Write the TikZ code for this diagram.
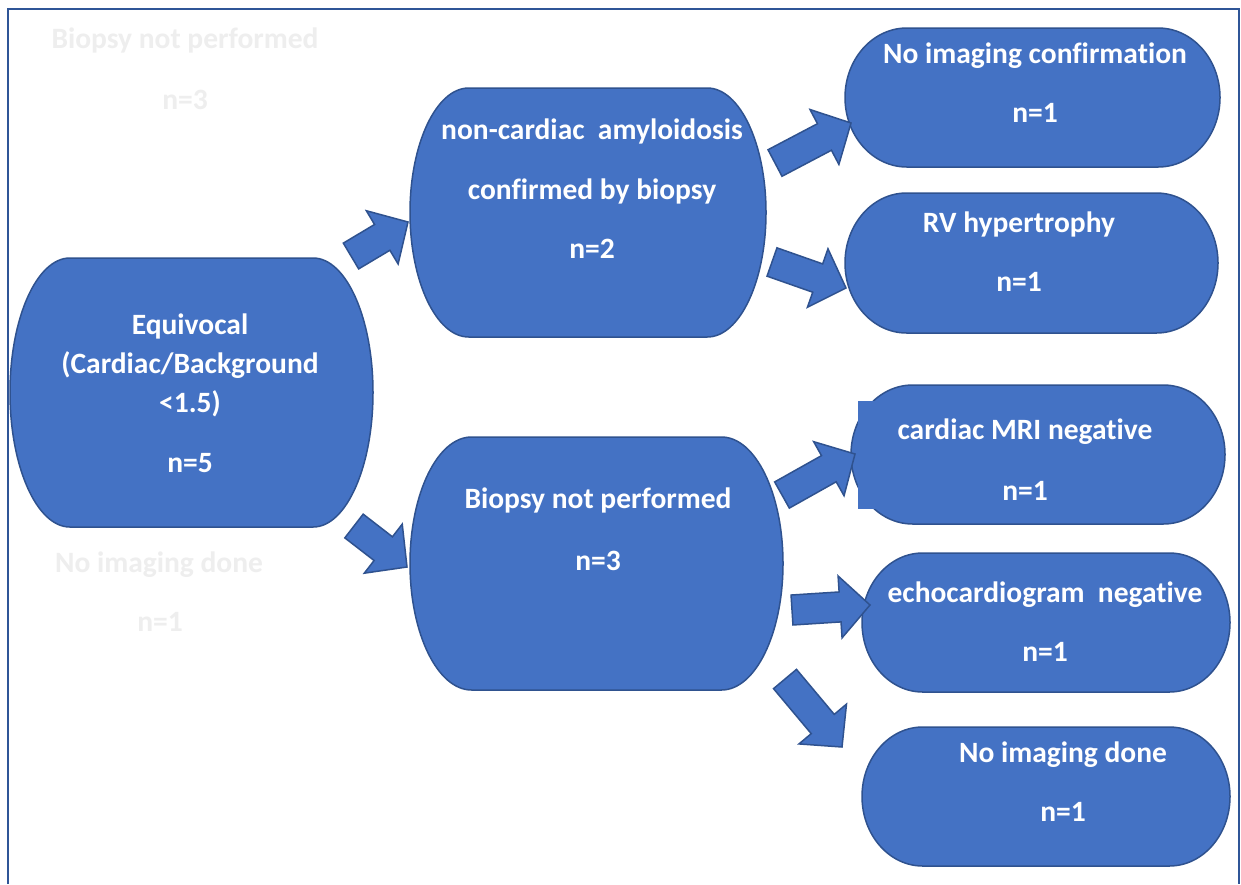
\documentclass[tikz,border=0pt]{standalone}
\usepackage{fontspec}
\setmainfont[Ligatures=NoCommon]{Carlito}
\usetikzlibrary{calc}
\definecolor{boxblue}{HTML}{4472C4}
\definecolor{edgeblue}{HTML}{2F528F}
\definecolor{framecol}{HTML}{2F5597}
\definecolor{ghostcol}{HTML}{EEEEEE}
% terminator-shaped box: name, x1, y1, x2, y2 (pixel coords, y downward)
\newcommand\tbox[5]{%
  \pgfmathsetmacro\rxx{0.165*(#4-#2)}%
  \pgfmathsetmacro\ryy{(#5-#3)/2}%
  \path[boxfill] ({#2+\rxx},-#3) -- ({#4-\rxx},-#3)
    arc[start angle=90,end angle=-90,x radius=\rxx,y radius=\ryy]
    -- ({#2+\rxx},-#5)
    arc[start angle=270,end angle=90,x radius=\rxx,y radius=\ryy] -- cycle;
  \node[inner sep=0pt,minimum width={#4-#2},minimum height={#5-#3}] (#1) at ({(#2+#4)/2},{-(#3+#5)/2}) {};
}
% block arrow from tail coordinate #1 to tip coordinate #2
\newcommand\blockarrow[2]{%
  \coordinate (#1-h) at ($(#2)!30pt!(#1)$);
  \path[barrow] ($(#1)!15pt!90:(#2)$) -- ($(#1-h)!15pt!90:(#2)$) -- ($(#1-h)!31pt!90:(#2)$)
    -- (#2) -- ($(#1-h)!31pt!-90:(#2)$) -- ($(#1-h)!15pt!-90:(#2)$) -- ($(#1)!15pt!-90:(#2)$) -- cycle;
}
\begin{document}
\begin{tikzpicture}[x=1pt,y=1pt,
  boxfill/.style={fill=boxblue,draw=edgeblue,line width=1.5pt},
  barrow/.style={fill=boxblue,draw=edgeblue,line width=1.5pt,line join=miter},
  lab/.style={text=white,font=\fontsize{29.5}{39}\selectfont\bfseries,align=center,inner sep=0pt},
  ghost/.style={text=ghostcol,font=\fontsize{29.5}{39}\selectfont\bfseries,align=center,inner sep=0pt},
  frame/.style={draw=framecol,line width=2pt}]
\useasboundingbox (0,0) rectangle (1241,-884);
\fill[white] (0,0) rectangle (1241,-884);
% frame
\draw[frame] (8,-884) -- (8,-9) -- (1239,-9) -- (1239,-884);
% ghost texts
\node[ghost] (g1) at (185,-40) {Biopsy not performed};
\node[ghost] (g1n) at (185,-100) {n=3};
\node[ghost] (g2) at (159,-565) {No imaging done};
\node[ghost] (g2n) at (160,-622) {n=1};
% boxes
\tbox{eq}{10}{258}{373}{527}
\tbox{nc}{410}{88}{766}{337}
\tbox{bp}{410}{437}{783}{690}
\tbox{r1}{845}{28}{1220}{167}
\tbox{r2}{845}{193}{1218}{333}
\tbox{r3}{851}{385}{1225}{524}
\tbox{r4}{862}{553}{1230}{692}
\tbox{r5}{862}{727}{1230}{866}
\fill[boxblue] (858,-401) rectangle (1100,-509);
% texts
\node[lab] (eqt) at (190,-365) {Equivocal\\(Cardiac/Background\\<1.5)};
\node[lab] (eqn) at (190,-463) {n=5};
\node[lab] (nct) at (592,-161) {non-cardiac\ \ amyloidosis\\[21pt]confirmed by biopsy};
\node[lab] (ncn) at (592,-249) {n=2};
\node[lab] (bpt) at (598,-500) {Biopsy not performed};
\node[lab] (bpn) at (598,-561) {n=3};
\node[lab] (r1t) at (1035,-56) {No imaging confirmation};
\node[lab] (r1n) at (1035,-113) {n=1};
\node[lab] (r2t) at (1019,-224) {RV hypertrophy};
\node[lab] (r2n) at (1019,-282) {n=1};
\node[lab] (r3t) at (1025,-432) {cardiac MRI negative};
\node[lab] (r3n) at (1025,-491) {n=1};
\node[lab] (r4t) at (1045,-595) {echocardiogram\ \ negative};
\node[lab] (r4n) at (1045,-652) {n=1};
\node[lab] (r5t) at (1063,-755) {No imaging done};
\node[lab] (r5n) at (1063,-812) {n=1};
% arrows
\coordinate (a1) at (351,-256); \coordinate (b1) at (408,-222);
\coordinate (a2) at (354,-526); \coordinate (b2) at (407,-567);
\coordinate (a3) at (775,-163); \coordinate (b3) at (851,-123);
\coordinate (a4) at (772,-262); \coordinate (b4) at (846,-288);
\coordinate (a5) at (782,-495); \coordinate (b5) at (855,-454);
\coordinate (a6) at (792,-610); \coordinate (b6) at (870,-605);
\coordinate (a7) at (785,-679); \coordinate (b7) at (842,-747);
\blockarrow{a1}{b1}
\blockarrow{a2}{b2}
\blockarrow{a3}{b3}
\blockarrow{a4}{b4}
\blockarrow{a5}{b5}
\blockarrow{a6}{b6}
\blockarrow{a7}{b7}
\end{tikzpicture}
\end{document}
